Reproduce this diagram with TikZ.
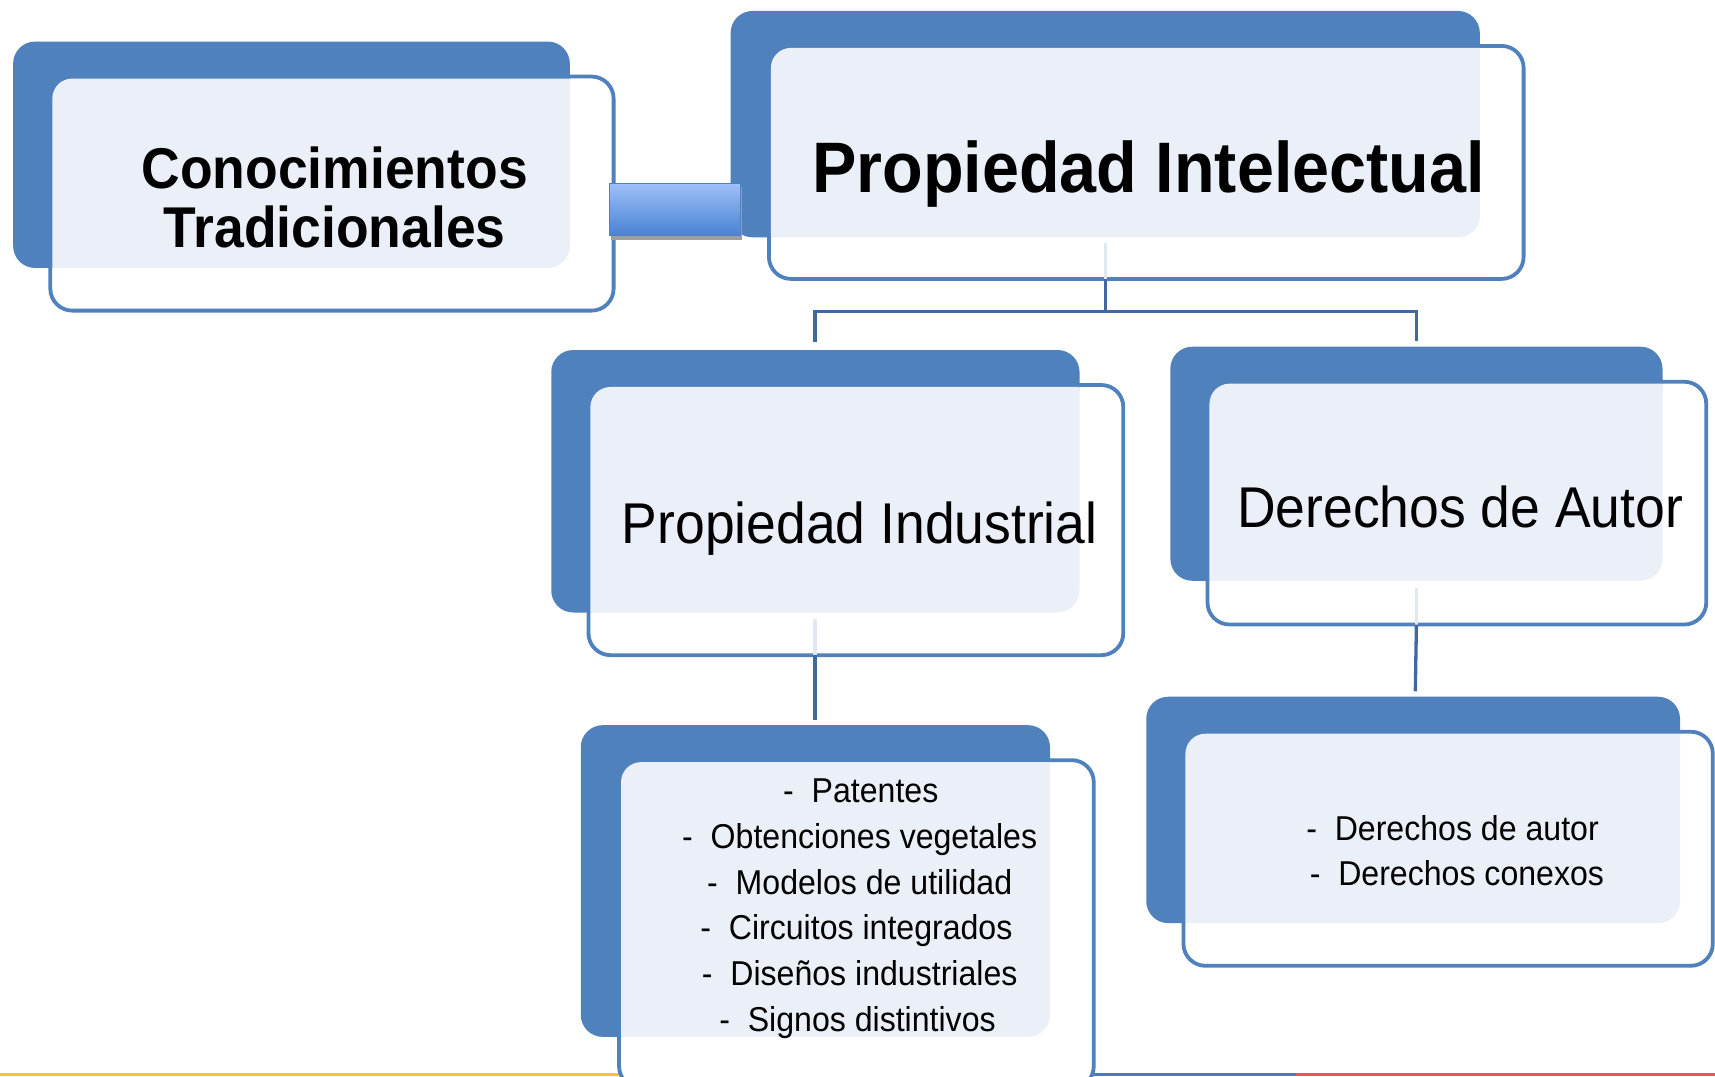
\documentclass[tikz,border=0pt]{standalone}
\usepackage{fontspec}
\setmainfont{Liberation Sans}[FakeStretch=0.93]
\definecolor{obl}{HTML}{4F81BD}
\definecolor{lbl}{HTML}{EBF0F8}
\definecolor{cbl}{HTML}{41699F}
\definecolor{faint}{HTML}{E2E8F1}
\definecolor{bartop}{HTML}{9EBFF7}
\definecolor{barbot}{HTML}{4982D4}
\definecolor{stry}{HTML}{F6C928}
\definecolor{strb}{HTML}{4A7CC0}
\definecolor{strr}{HTML}{E8535F}
\newcommand\ipbox[8]{%
  \draw[line width=3.8pt, draw=obl, fill=white, rounded corners=22pt] (#5,#6) rectangle (#7,#8);
  \begin{scope}[even odd rule, rounded corners=19pt]
    \clip (-100,-100) rectangle (1700,1100)
      (#5+2.6,#6+2.6) rectangle (#7-2.6,#8-2.6);
    \fill[obl, rounded corners=22pt] (#1,#2) rectangle (#3,#4);
  \end{scope}
  \begin{scope}
    \clip[rounded corners=20pt] (#5+1.8,#6+1.8) rectangle (#7-1.8,#8-1.8);
    \fill[lbl, rounded corners=22pt] (#1,#2) rectangle (#3,#4);
  \end{scope}}
\tikzset{
  conn/.style={draw=cbl, line width=3.3pt},
  faintconn/.style={draw=faint, line width=3.3pt},
  big/.style={anchor=base, inner sep=0pt, font=\fontsize{57.5}{62}\selectfont},
  bigb/.style={anchor=base, inner sep=0pt, font=\fontsize{57.5}{62}\selectfont\bfseries},
  huge/.style={anchor=base, inner sep=0pt, font=\fontsize{71.5}{76}\selectfont\bfseries},
  item/.style={anchor=base, inner sep=0pt, font=\fontsize{34.5}{40}\selectfont}
}
\begin{document}
\begin{tikzpicture}[x=1.09375pt, y=-1.09375pt]
\clip (0,0) rectangle (1568,984);
\fill[white] (0,0) rectangle (1568,984);
% bottom stripe
\fill[stry] (0,981.3) rectangle (575,984);
\fill[strb] (985,981.3) rectangle (1185,984);
\fill[strr] (1185,981.3) rectangle (1568,984);
% boxes
\ipbox{12}{38}{521}{245}{46}{70}{561}{284}
\ipbox{668}{10}{1353}{217}{703}{42}{1393}{255}
\ipbox{504}{320}{987}{560}{538}{352}{1027}{599}
\ipbox{1070}{317}{1520}{531}{1104}{349}{1560}{571}
\ipbox{531}{663}{960}{948}{566}{695}{1000}{995}
\ipbox{1048}{637}{1536}{844}{1082}{669}{1566}{883}
% connector coordinates
\coordinate (pib) at (1011,222);
\coordinate (pif) at (1011,255);
\coordinate (hb) at (1011,285);
\coordinate (pindtop) at (745,313);
\coordinate (datop) at (1295,312);
\coordinate (pindb) at (745,566);
\coordinate (pindf) at (745,599);
\coordinate (ltop) at (745,658);
\coordinate (dab) at (1295,538);
\coordinate (daf) at (1295,571);
\coordinate (rtop) at (1294,632);
\draw[faintconn] (pib) -- (pif);
\draw[conn] (pif) -- (hb) -| (pindtop);
\draw[conn] (hb) -| (datop);
\draw[faintconn] (pindb) -- (pindf);
\draw[conn] (pindf) -- (ltop);
\draw[faintconn] (dab) -- (daf);
\draw[conn] (daf) -- (rtop);
% texts
\node[bigb] (ct1) at (306,172) {Conocimientos};
\node[bigb] (ct2) at (306,226) {Tradicionales};
\node[huge] (pit) at (1050,176) {Propiedad Intelectual};
\node[big] (pind) at (786,497) {Propiedad Industrial};
\node[big] (da) at (1335,482) {Derechos de Autor};
\node[item] (la) at (787,734) {-~~Patentes};
\node[item] (lb) at (786,775.8) {-~~Obtenciones vegetales};
\node[item] (lc) at (786,817.6) {-~~Modelos de utilidad};
\node[item] (ld) at (783,859.4) {-~~Circuitos integrados};
\node[item] (le) at (786,901.2) {-~~Diseños industriales};
\node[item] (lf) at (784,943) {-~~Signos distintivos};
\node[item] (ra) at (1328,768) {-~~Derechos de autor};
\node[item] (rb) at (1332,810) {-~~Derechos conexos};
% link bar between the two top boxes
\fill[black!38] (558.5,171) rectangle (678.5,219.5);
\shade[top color=bartop, bottom color=barbot, draw=obl, line width=0.8pt] (557,168) rectangle (677,215);
\end{tikzpicture}
\end{document}
